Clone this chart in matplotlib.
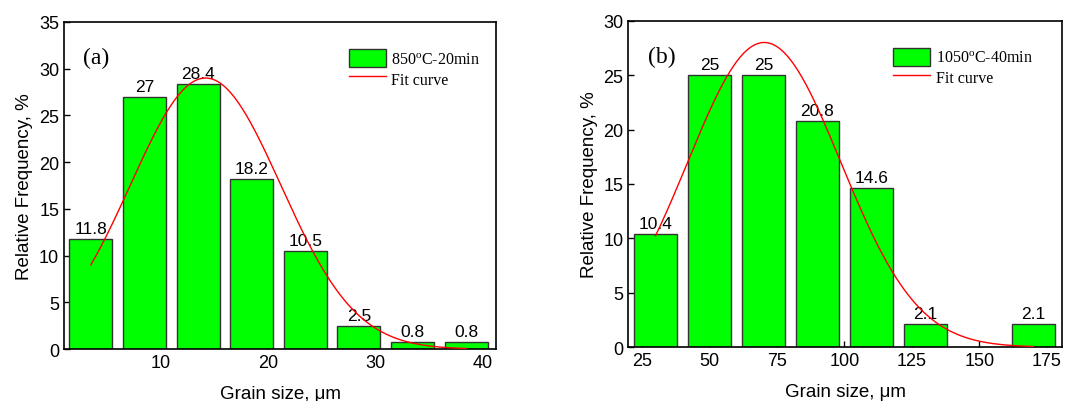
import numpy as np
import matplotlib
matplotlib.use("Agg")
import matplotlib.pyplot as plt

# panel (a): 850C-20min
size_a = [3.5, 8.5, 13.5, 18.5, 23.5, 28.5, 33.5, 38.5]
freq_a = [11.8, 27, 28.4, 18.2, 10.5, 2.5, 0.8, 0.8]
fit_a = dict(xc=14.2, s=7.0, A=29.0)

# panel (b): 1050C-40min
size_b = [30, 50, 70, 90, 110, 130, 170]
freq_b = [10.4, 25, 25, 20.8, 14.6, 2.1, 2.1]
fit_b = dict(xc=70.3, s=28.4, A=28.0)

plt.rcParams['font.family'] = ['Liberation Sans', 'DejaVu Sans']
plt.rcParams['xtick.direction'] = 'in'
plt.rcParams['ytick.direction'] = 'in'

fig = plt.figure(figsize=(10.67, 4.02), dpi=100)
ax1 = fig.add_axes([0.060, 0.129, 0.405, 0.814])
ax2 = fig.add_axes([0.589, 0.134, 0.406, 0.812])


def panel(ax, x, y, width, fit, xlim, ylim, xticks, label, tag, leg_x):
    bars = ax.bar(x, y, width=width, color='#00ff00', edgecolor='#333333',
                  linewidth=1.0, zorder=2)
    for xi, yi in zip(x, y):
        ax.text(xi, yi + 0.3, f"{yi:g}", ha='center', va='bottom', fontsize=12.5)
    xs = np.linspace(x[0], x[-1], 300)
    ys = fit['A'] * np.exp(-(xs - fit['xc']) ** 2 / (2 * fit['s'] ** 2))
    line, = ax.plot(xs, ys, color='red', linewidth=1.0, zorder=3)
    ax.set_xlim(*xlim)
    ax.set_ylim(*ylim)
    ax.set_xticks(xticks)
    ax.set_yticks(np.arange(0, ylim[1] + 1, 5))
    ax.tick_params(labelsize=13, length=4, width=1)
    ax.set_xlabel('Grain size, μm', fontsize=13.5, labelpad=10)
    ax.set_ylabel('Relative Frequency, %', fontsize=13.5, labelpad=4)
    for sp in ax.spines.values():
        sp.set_linewidth(1.2)
    ax.text(0.045, 0.89, tag, transform=ax.transAxes, fontsize=17,
            family='Liberation Serif', va='center')
    ax.legend([bars, line], [label, 'Fit curve'], loc='upper right',
              bbox_to_anchor=(leg_x, 0.945), frameon=False,
              prop={'family': 'Liberation Serif', 'size': 11.5},
              handlelength=2.3, handleheight=1.3, handletextpad=0.35,
              labelspacing=0.12, borderaxespad=0.2)


panel(ax1, size_a, freq_a, 4, fit_a, (1, 41.3), (0, 35), [10, 20, 30, 40],
      '850$^\\mathregular{o}$C-20min', '(a)', 0.985)
panel(ax2, size_b, freq_b, 16, fit_b, (20, 180.5), (0, 30),
      [25, 50, 75, 100, 125, 150, 175], '1050$^\\mathregular{o}$C-40min', '(b)', 0.955)

fig.savefig('out.png', dpi=100)
